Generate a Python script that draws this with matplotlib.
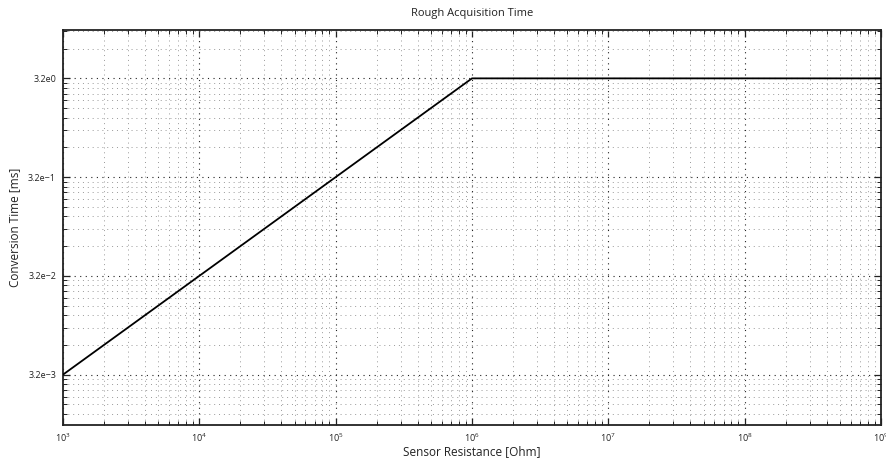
import matplotlib.pyplot as plt
from matplotlib.ticker import FixedLocator, NullFormatter

resistance = [1e3, 1e6, 1e9]
conv_time = [3.2e-3, 3.2, 3.2]

ytick_vals = [3.2e-3, 3.2e-2, 3.2e-1, 3.2e0]
ytick_labels = ['3.2e\u22123', '3.2e\u22122', '3.2e\u22121', '3.2e0']
xtick_vals = [1e3, 1e4, 1e5, 1e6, 1e7, 1e8, 1e9]
xtick_labels = ['$10^{%d}$' % k for k in range(3, 10)]

plt.rcParams['font.family'] = ['Open Sans', 'DejaVu Sans']
plt.rcParams['mathtext.fontset'] = 'custom'
plt.rcParams['mathtext.rm'] = 'Open Sans'
plt.rcParams['mathtext.it'] = 'Open Sans'

fig = plt.figure(figsize=(8.86, 4.59), dpi=100)
ax = fig.add_axes([63 / 886, 1 - 424.5 / 459, 818 / 886, 395 / 459])

ax.plot(resistance, conv_time, color='black', lw=1.3, zorder=3)
ax.set_xscale('log')
ax.set_yscale('log')
ax.set_xlim(1e3, 1e9)
ax.set_ylim(1e-3, 1e1)

ax.set_xticks(xtick_vals)
ax.set_xticklabels(xtick_labels)
ax.xaxis.set_minor_locator(FixedLocator([m * 10.0 ** k for k in range(3, 9) for m in range(2, 10)]))
ax.xaxis.set_minor_formatter(NullFormatter())

ax.set_yticks(ytick_vals)
ax.set_yticklabels(ytick_labels)
ax.yaxis.set_minor_locator(FixedLocator([3.2 * m * 10.0 ** k for k in range(-4, 1) for m in range(2, 10)]))
ax.yaxis.set_minor_formatter(NullFormatter())

ax.tick_params(which='both', direction='in', top=True, right=True, labelsize=6.5, colors='#222222', pad=5)
ax.tick_params(which='major', length=5, width=0.9)
ax.tick_params(which='minor', length=3, width=0.7)
for s in ax.spines.values():
    s.set_linewidth(1.3)
    s.set_color('#222222')

ax.grid(which='major', linestyle=(0, (1, 4)), color='#222222', lw=0.8)
ax.grid(which='minor', linestyle=(0, (1, 4)), color='#999999', lw=0.7)

ax.set_title('Rough Acquisition Time', fontsize=8, pad=10, color='#222222')
ax.set_xlabel('Sensor Resistance [Ohm]', fontsize=8.5, labelpad=1, color='#222222')
ax.set_ylabel('Conversion Time [ms]', fontsize=8.5, labelpad=5, color='#222222')

plt.savefig('out.png', dpi=100)
